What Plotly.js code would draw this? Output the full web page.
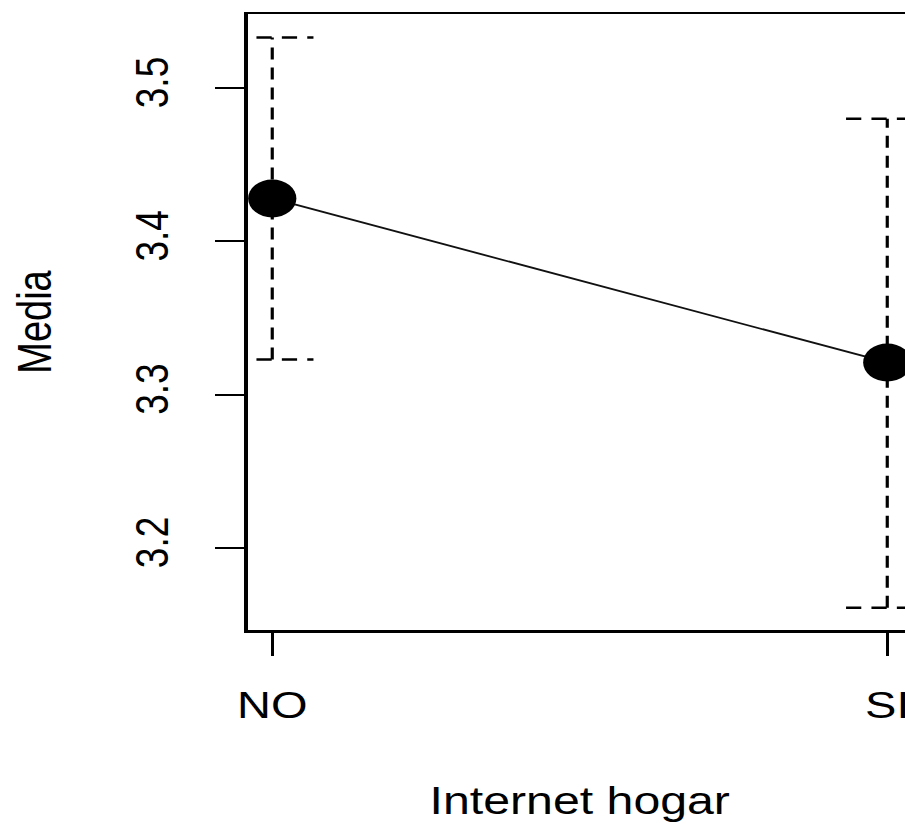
<!DOCTYPE html>
<html><head><meta charset="utf-8">
<script src="https://cdn.plot.ly/plotly-3.0.1.min.js"></script>
<style>
html,body{margin:0;padding:0;overflow:hidden;width:905px;height:824px;background:#fff}
#wrap{width:905px;height:824px;overflow:hidden;position:relative}
#chart{width:760px;height:824px;transform:scaleX(1.27);transform-origin:0 0}
</style></head><body><div id="wrap"><div id="chart"></div></div>
<script>
// ---- data ----
const categories = ["NO", "SI"];
const means = [3.428, 3.321];
const lowerCI = [3.323, 3.161];
const upperCI = [3.533, 3.480];
const yTickVals = [3.2, 3.3, 3.4, 3.5];
const yTickText = ["3.2", "3.3", "3.4", "3.5"];
const xTitle = "Internet hogar";
const yTitle = "Media";

// ---- styling ----
const FONT = '"Liberation Sans", Arial, Helvetica, sans-serif';
const capHalf = 0.067;
const xPos = categories.map((c, i) => i + 1);

// vertical bars + caps built from the CI arrays
const ex = [], ey = [];
xPos.forEach((x, i) => {
  ex.push(x, x, null); ey.push(lowerCI[i], upperCI[i], null);
  ex.push(x - capHalf, x + capHalf, null); ey.push(upperCI[i], upperCI[i], null);
  ex.push(x - capHalf, x + capHalf, null); ey.push(lowerCI[i], lowerCI[i], null);
});

const traces = [
  {x: ex, y: ey, mode: 'lines', type: 'scatter', hoverinfo: 'skip',
   line: {color: '#000', width: 2.5, dash: '12px,8px'}, connectgaps: false},
  {x: xPos, y: means, mode: 'lines+markers', type: 'scatter',
   line: {color: '#111', width: 1.8},
   marker: {color: '#000', size: 38, symbol: 'circle'}, cliponaxis: false}
];

const layout = {
  width: 760, height: 824,
  margin: {l: 195, r: 42, t: 14, b: 194},
  paper_bgcolor: '#fff', plot_bgcolor: '#fff',
  showlegend: false,
  font: {family: FONT, color: '#000', size: 37},
  xaxis: {
    range: [0.96, 2.04], tickvals: xPos, ticktext: categories,
    showgrid: false, zeroline: false,
    showline: true, mirror: true, linecolor: '#000', linewidth: 2.5,
    ticks: 'outside', ticklen: 23, tickwidth: 2, tickcolor: '#000',
    tickfont: {family: FONT, size: 37, color: '#000'},
    ticklabelstandoff: 18,
    title: {text: xTitle, font: {family: FONT, size: 38, color: '#000'}, standoff: 63},
    automargin: false
  },
  yaxis: {
    range: [3.1465, 3.5483], tickvals: yTickVals, ticktext: yTickText,
    showgrid: false, zeroline: false,
    showline: true, mirror: true, linecolor: '#000', linewidth: 2.5,
    ticks: 'outside', ticklen: 23.6, tickwidth: 2, tickcolor: '#000',
    tickangle: -90,
    tickfont: {family: FONT, size: 37, color: '#000'},
    ticklabelstandoff: 22,
    title: {text: yTitle, font: {family: FONT, size: 38, color: '#000'}, standoff: 47},
    automargin: false
  }
};

Plotly.newPlot('chart', traces, layout, {staticPlot: true, displayModeBar: false});
</script></body></html>
